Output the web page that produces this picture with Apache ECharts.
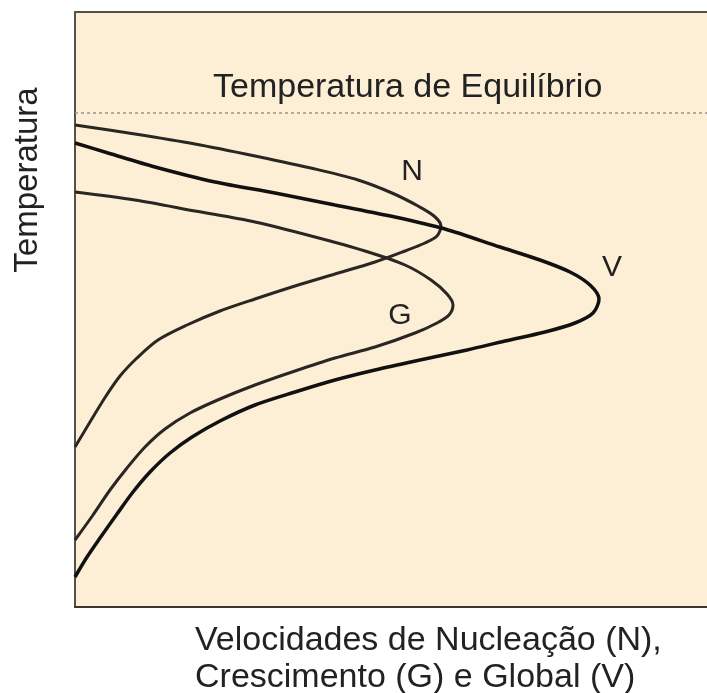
<!DOCTYPE html>
<html>
<head>
<meta charset="utf-8">
<script src="https://cdn.jsdelivr.net/npm/echarts@6/dist/echarts.min.js"></script>
<style>
  html, body { margin: 0; padding: 0; background: #ffffff; }
  #main { width: 707px; height: 693px; }
</style>
</head>
<body>
<div id="main"></div>
<script>
// curvas: [velocidade, temperatura] (unidades arbitrarias)
var nucleacao = [
  [0, 482], [60, 473], [120, 463], [180, 451], [240, 438], [283, 427], [317, 414],
  [343, 401], [359, 391], [366, 381], [362, 371], [350, 364], [330, 356], [300, 345],
  [260, 333], [220, 321], [180, 308], [145, 296], [112, 282], [83, 267], [62, 249],
  [45, 231], [31, 211], [18, 190], [0, 160]
];
var crescimento = [
  [0, 415], [60, 407], [120, 396], [180, 385], [240, 370], [290, 356], [330, 342],
  [356, 327], [372, 313], [378, 302], [374, 292], [362, 284], [340, 274], [300, 260],
  [260, 249], [220, 236], [180, 222], [145, 208], [115, 194], [90, 178], [70, 160],
  [52, 139], [35, 117], [18, 92], [0, 67]
];
var global = [
  [0, 464], [33, 454], [80, 440], [140, 425], [200, 414], [260, 402], [320, 390],
  [370, 378], [425, 360], [465, 347], [495, 335], [515, 322], [524, 308], [518, 294],
  [500, 284], [470, 275], [430, 266], [392, 257], [345, 247], [300, 237], [260, 227],
  [220, 215], [180, 202], [145, 186], [117, 170], [95, 154], [75, 135], [58, 115],
  [42, 93], [25, 69], [12, 50], [0, 30]
];
var tempEquilibrio = 494;
var xMax = 632, yMax = 595;

var myChart = echarts.init(document.getElementById("main"));

var fonte = "'Liberation Sans', Arial, sans-serif";

var option = {
  animation: false,
  backgroundColor: "#ffffff",
  grid: {
    left: 75, top: 12, right: 0, bottom: 86,
    show: true,
    backgroundColor: "#fdeed6",
    borderWidth: 0
  },
  xAxis: [
    {
      type: "value", min: 0, max: xMax,
      axisLine: { show: true, onZero: false, lineStyle: { color: "#3a3530", width: 2 } },
      axisTick: { show: false }, axisLabel: { show: false }, splitLine: { show: false }
    },
    {
      type: "value", min: 0, max: xMax, position: "top",
      axisLine: { show: true, onZero: false, lineStyle: { color: "#55504a", width: 2 } },
      axisTick: { show: false }, axisLabel: { show: false }, splitLine: { show: false }
    }
  ],
  yAxis: {
    type: "value", min: 0, max: yMax,
    axisLine: { show: true, onZero: false, lineStyle: { color: "#55504a", width: 2 } },
    axisTick: { show: false }, axisLabel: { show: false }, splitLine: { show: false }
  },
  series: [
    {
      name: "N", type: "line", data: nucleacao, smooth: 0.3, symbol: "none",
      lineStyle: { color: "#2a2622", width: 3 },
      markLine: {
        silent: true, symbol: "none", label: { show: false },
        lineStyle: { color: "#9a948c", type: [3, 3], width: 1.5 },
        data: [{ yAxis: tempEquilibrio }]
      }
    },
    {
      name: "G", type: "line", data: crescimento, smooth: 0.3, symbol: "none",
      lineStyle: { color: "#2a2622", width: 3 }
    },
    {
      name: "V", type: "line", data: global, smooth: 0.3, symbol: "none",
      lineStyle: { color: "#111111", width: 3.5 }
    }
  ],
  graphic: [
    { type: "text", x: 213, y: 88,
      style: { text: "Temperatura de Equilíbrio", font: "34px " + fonte, fill: "#222", verticalAlign: "middle" } },
    { type: "text", x: 412, y: 172,
      style: { text: "N", font: "30px " + fonte, fill: "#222", align: "center", verticalAlign: "middle" } },
    { type: "text", x: 400, y: 316,
      style: { text: "G", font: "30px " + fonte, fill: "#222", align: "center", verticalAlign: "middle" } },
    { type: "text", x: 612, y: 268,
      style: { text: "V", font: "30px " + fonte, fill: "#222", align: "center", verticalAlign: "middle" } },
    { type: "text", x: 28, y: 180, rotation: Math.PI / 2,
      style: { text: "Temperatura", font: "33px " + fonte, fill: "#222", align: "center", verticalAlign: "middle" } },
    { type: "text", x: 195, y: 641,
      style: { text: "Velocidades de Nucleação (N),", font: "34px " + fonte, fill: "#222", verticalAlign: "middle" } },
    { type: "text", x: 195, y: 678,
      style: { text: "Crescimento (G) e Global (V)", font: "34px " + fonte, fill: "#222", verticalAlign: "middle" } }
  ]
};

myChart.setOption(option);
</script>
</body>
</html>
